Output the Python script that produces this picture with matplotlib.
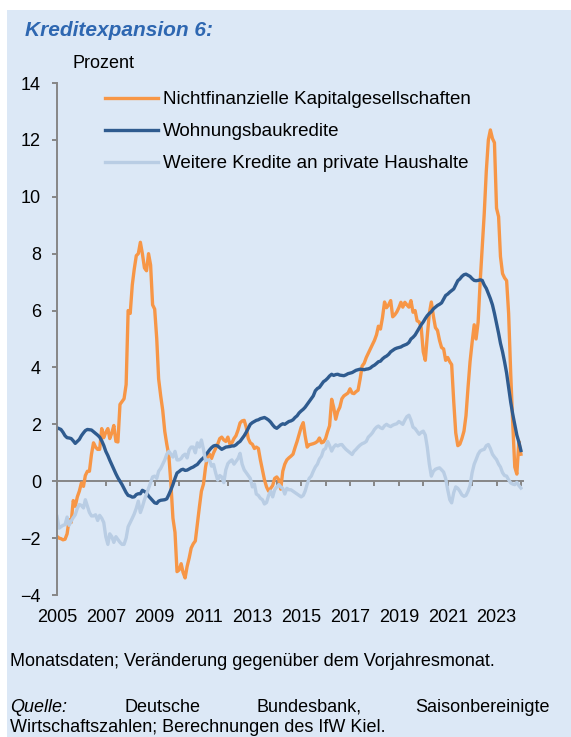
import matplotlib
matplotlib.use("Agg")
import matplotlib.pyplot as plt
import matplotlib.dates as mdates
from matplotlib.patches import Rectangle
import pandas as pd

# Monatsdaten, Veränderung gegenüber Vorjahresmonat in Prozent (Jan 2005 - Jan 2024)
nfk = [
    -1.94, -2.0, -2.02, -2.06, -2.04, -1.85, -1.35, -1.45, -0.68, -0.88, -0.55, -0.35,
    -0.06, -0.18, 0.2, 0.35, 0.35, 0.95, 1.35, 1.2, 1.12, 1.12, 1.85, 1.53,
    1.72, 1.85, 1.5, 1.7, 1.96, 1.4, 1.38, 2.7, 2.8, 2.9, 3.4, 6.0,
    5.9, 6.9, 7.45, 7.93, 8.0, 8.4, 8.0, 7.5, 7.4, 8.0, 7.6, 6.2,
    6.05, 5.0, 3.6, 3.0, 2.5, 1.75, 1.3, 0.9, -0.1, -1.3, -1.8, -3.18,
    -3.12, -2.9, -3.2, -3.4, -3.0, -2.7, -2.35, -2.2, -2.1, -1.5, -0.9, -0.35,
    -0.1, 0.5, 0.85, 0.95, 0.8, 1.0, 1.15, 1.3, 1.5, 1.55, 1.45, 1.4,
    1.55, 1.3, 1.35, 1.5, 1.6, 1.8, 2.05, 2.12, 2.14, 1.9, 1.5, 1.35,
    1.3, 1.15, 1.2, 1.15, 0.75, 0.4, 0.05, -0.2, -0.35, -0.25, -0.15, 0.1,
    0.15, 0.05, -0.28, 0.35, 0.6, 0.75, 0.82, 0.88, 0.95, 1.18, 1.4, 1.65,
    1.9, 2.06, 1.6, 1.2, 1.28, 1.3, 1.32, 1.35, 1.4, 1.52, 1.35, 1.38,
    1.5, 1.75, 1.95, 2.88, 2.6, 2.18, 2.45, 2.6, 2.9, 3.0, 3.05, 3.1,
    3.25, 3.1, 3.08, 3.15, 3.2, 3.6, 4.05, 4.15, 4.35, 4.5, 4.65, 4.8,
    4.95, 5.15, 5.45, 5.35, 5.75, 6.3, 6.1, 6.2, 6.35, 5.78, 5.85, 5.95,
    6.1, 6.29, 6.12, 6.29, 6.2, 6.12, 6.35, 5.94, 6.0, 5.64, 5.6, 5.41,
    4.55, 4.25, 5.1, 5.9, 6.3, 5.8, 5.4, 5.3, 4.95, 4.7, 4.65, 4.25,
    4.35, 4.2, 4.1, 2.8, 1.7, 1.25, 1.3, 1.5, 1.76, 2.3, 3.3, 4.2,
    4.88, 5.5, 5.0, 5.6, 7.0, 8.2, 9.4, 10.9, 12.0, 12.35, 12.05, 11.9,
    9.6, 9.3, 7.9, 7.3, 7.15, 7.05, 5.9, 3.8, 2.0, 0.5, 0.25, 1.4,
    0.95,
]
wohnbau = [
    1.88, 1.85, 1.82, 1.72, 1.6, 1.53, 1.52, 1.5, 1.42, 1.33, 1.4, 1.47,
    1.6, 1.7, 1.78, 1.82, 1.81, 1.8, 1.74, 1.68, 1.62, 1.55, 1.42, 1.26,
    1.05, 0.9, 0.74, 0.58, 0.42, 0.26, 0.12, 0.0, -0.12, -0.26, -0.4, -0.5,
    -0.52, -0.56, -0.55, -0.47, -0.44, -0.44, -0.32, -0.36, -0.41, -0.52, -0.6, -0.68,
    -0.76, -0.78, -0.7, -0.67, -0.66, -0.65, -0.62, -0.47, -0.3, -0.12, 0.1, 0.29,
    0.34, 0.4, 0.42, 0.38, 0.39, 0.43, 0.47, 0.5, 0.55, 0.59, 0.68, 0.76,
    0.82, 0.92, 1.0, 1.1, 1.18, 1.24, 1.26, 1.24, 1.18, 1.12, 1.16, 1.2,
    1.21, 1.22, 1.24, 1.24, 1.28, 1.35, 1.4, 1.5, 1.6, 1.72, 1.86, 2.0,
    2.06, 2.1, 2.14, 2.16, 2.2, 2.22, 2.24, 2.2, 2.15, 2.08, 1.98, 1.9,
    1.86, 1.92, 1.98, 2.02, 2.0, 2.05, 2.1, 2.12, 2.16, 2.24, 2.3, 2.4,
    2.47, 2.53, 2.6, 2.7, 2.8, 2.9, 3.0, 3.18, 3.26, 3.3, 3.4, 3.5,
    3.55, 3.62, 3.7, 3.76, 3.72, 3.75, 3.76, 3.73, 3.72, 3.71, 3.74, 3.78,
    3.8, 3.82, 3.86, 3.9, 3.92, 3.94, 3.93, 3.92, 3.94, 3.95, 3.98, 4.04,
    4.08, 4.14, 4.2, 4.22, 4.3, 4.36, 4.4, 4.46, 4.55, 4.6, 4.65, 4.68,
    4.7, 4.72, 4.76, 4.79, 4.82, 4.88, 5.0, 5.06, 5.14, 5.26, 5.38, 5.5,
    5.6, 5.72, 5.82, 5.9, 5.96, 6.06, 6.12, 6.18, 6.22, 6.27, 6.4, 6.53,
    6.58, 6.65, 6.7, 6.76, 6.9, 7.05, 7.11, 7.2, 7.26, 7.28, 7.24, 7.2,
    7.12, 7.06, 7.05, 7.06, 7.08, 7.06, 6.9, 6.78, 6.6, 6.42, 6.2, 5.9,
    5.55, 5.2, 4.85, 4.55, 4.2, 3.8, 3.3, 2.78, 2.35, 2.0, 1.62, 1.38,
    1.08,
]
weitere = [
    -1.24, -1.65, -1.6, -1.55, -1.53, -1.26, -1.55, -1.4, -1.28, -1.18, -0.95, -0.82,
    -0.85, -0.94, -0.65, -0.88, -1.1, -1.22, -1.22, -1.18, -1.38, -1.2, -1.3, -1.45,
    -1.95, -2.22, -1.85, -1.95, -2.15, -1.95, -2.05, -2.15, -2.22, -2.22, -2.0, -1.6,
    -1.45, -1.3, -1.15, -0.95, -0.7, -1.1, -0.9, -0.65, -0.45, -0.25, -0.05, 0.15,
    0.18, 0.1, 0.35, 0.45, 0.6, 0.75, 0.95, 1.05, 0.95, 0.85, 1.05, 0.75,
    0.75, 0.8, 0.9, 0.95, 0.82, 1.1, 1.2, 1.2, 1.0, 1.35, 1.2, 1.45,
    1.12, 0.72, 0.75, 0.74, 0.53, 0.59, 0.3, 0.04, 0.2, 0.15, -0.05, 0.4,
    0.62, 0.7, 0.75, 0.6, 0.7, 0.8, 0.98, 0.6, 0.4, 0.3, 0.2, 0.1,
    -0.2, -0.1, -0.45, -0.5, -0.6, -0.65, -0.8, -0.75, -0.5, -0.35, -0.55, -0.3,
    -0.2, -0.12, -0.2, -0.25, -0.45, -0.25, -0.3, -0.3, -0.35, -0.4, -0.45, -0.5,
    -0.55, -0.5, -0.35, -0.1, 0.1, 0.18, 0.35, 0.5, 0.6, 0.78, 0.88, 1.1,
    1.15, 1.4, 1.25, 1.06, 1.2, 1.28, 1.24, 1.28, 1.29, 1.2, 1.12, 1.06,
    1.0, 0.94, 1.05, 1.12, 1.2, 1.27, 1.32, 1.35, 1.4, 1.55, 1.62, 1.7,
    1.82, 1.9, 1.94, 1.88, 1.85, 1.95, 2.0, 1.95, 1.92, 1.97, 2.0, 2.02,
    2.1, 2.05, 2.0, 2.15, 2.27, 2.32, 2.15, 1.9, 1.85, 1.75, 1.65, 1.72,
    1.76, 1.62, 1.2, 0.6, 0.18, 0.35, 0.42, 0.45, 0.47, 0.4, 0.32, 0.1,
    -0.3, -0.65, -0.76, -0.4, -0.2, -0.25, -0.35, -0.48, -0.53, -0.5, -0.35, -0.15,
    0.3, 0.6, 0.76, 0.95, 1.06, 1.1, 1.12, 1.25, 1.29, 1.15, 0.95, 0.85,
    0.76, 0.6, 0.5, 0.3, 0.2, 0.18, 0.05, -0.06, -0.1, -0.12, -0.04, -0.15,
    -0.24,
]
labels = ["Nichtfinanzielle Kapitalgesellschaften", "Wohnungsbaukredite",
          "Weitere Kredite an private Haushalte"]
yticks = list(range(-4, 15, 2))
label_years = list(range(2005, 2024, 2))
tick_years = list(range(2005, 2025))

dates = pd.date_range("2005-01-01", periods=len(nfk), freq="MS").to_pydatetime()

plt.rcParams['font.family'] = ['Liberation Sans', 'DejaVu Sans']
bg = '#DCE8F6'
grau = '#868686'
W, H = 571, 737

fig = plt.figure(figsize=(W / 100, H / 100), dpi=100)
# hellblauer Kasten hinter allem
fig.patches.append(Rectangle((7 / W, 0), 1, 1 - 10 / H, transform=fig.transFigure,
                             facecolor=bg, edgecolor='none', zorder=-5))

fig.text(25 / W, 1 - 30 / H, "Kreditexpansion 6:", fontsize=15, fontweight='bold',
         fontstyle='italic', color='#2E67B1', va='center')
fig.text(73 / W, 1 - 63 / H, "Prozent", fontsize=13, va='center')

ax = fig.add_axes([57 / W, 1 - 595 / H, 466 / W, 512 / H])
ax.set_facecolor('none')

ax.plot(dates, nfk, color='#F79646', lw=2.4, label=labels[0], solid_joinstyle='round')
ax.plot(dates, wohnbau, color='#2F5B8F', lw=2.4, label=labels[1], solid_joinstyle='round')
ax.plot(dates, weitere, color='#B9CDE4', lw=2.4, label=labels[2], solid_joinstyle='round')

ax.set_ylim(-4, 14)
ax.set_yticks(yticks)
ax.set_xlim(pd.Timestamp("2005-01-01"), pd.Timestamp("2024-02-01"))

for s in ['top', 'right']:
    ax.spines[s].set_visible(False)
ax.spines['left'].set_color(grau)
ax.spines['left'].set_linewidth(1.4)
ax.spines['bottom'].set_position(('data', 0))
ax.spines['bottom'].set_color(grau)
ax.spines['bottom'].set_linewidth(1.4)
ax.spines['bottom'].set_zorder(1)

ax.set_xticks([mdates.date2num(pd.Timestamp(f"{y}-01-01")) for y in tick_years])
ax.tick_params(axis='x', direction='out', length=3.5, width=1.4, color=grau,
               labelbottom=False)
ax.tick_params(axis='y', direction='out', length=3.6, width=1.4, color=grau,
               labelsize=13, pad=8)

sec = ax.secondary_xaxis(0)
sec.set_xticks([mdates.date2num(pd.Timestamp(f"{y}-01-01")) for y in label_years],
               [str(y) for y in label_years])
sec.tick_params(length=0, pad=10, labelsize=13)
sec.spines['bottom'].set_visible(False)

ax.legend(loc='upper left', bbox_to_anchor=(105 / W, 1 - 91 / H),
          bbox_transform=fig.transFigure, frameon=False, fontsize=13.5,
          handlelength=2.8, handletextpad=0.27, labelspacing=0.8,
          borderpad=0, borderaxespad=0)

fig.text(10 / W, 1 - 661 / H, "Monatsdaten; Veränderung gegenüber dem Vorjahresmonat.",
         fontsize=13, va='center')
fig.text(10 / W, 1 - 707 / H, "Quelle:", fontsize=13, fontstyle='italic', va='center')
fig.text(124 / W, 1 - 707 / H, "Deutsche", fontsize=13, va='center')
fig.text(257 / W, 1 - 707 / H, "Bundesbank,", fontsize=13, va='center')
fig.text(550 / W, 1 - 707 / H, "Saisonbereinigte", fontsize=13, va='center', ha='right')
fig.text(10 / W, 1 - 727 / H, "Wirtschaftszahlen; Berechnungen des IfW Kiel.",
         fontsize=13, va='center')

fig.savefig("out.png", dpi=100, facecolor='white')
